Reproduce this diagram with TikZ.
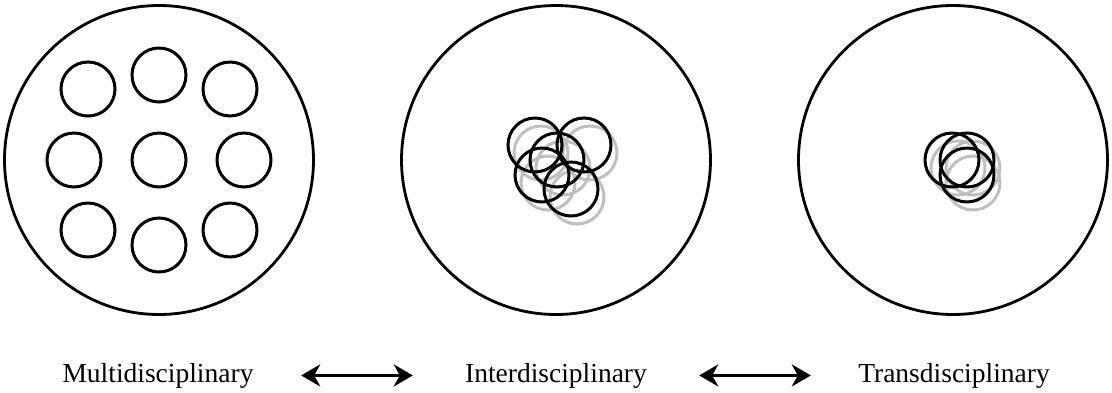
\documentclass[tikz,border=0pt]{standalone}
\usepackage{fontspec}
\setmainfont{Liberation Serif}
\usetikzlibrary{arrows.meta, positioning}

\begin{document}
\begin{tikzpicture}[
  x=1pt, y=-1pt,
  >={Stealth[length=19pt, width=22pt, inset=6pt]},
  panel/.style={circle, draw, line width=2.8pt, minimum size=309pt, inner sep=0pt},
  disc/.style={circle, draw, line width=3pt, minimum size=54pt, inner sep=0pt},
  shade/.style={disc, draw=black!25},
  tag/.style={font=\fontsize{27.5}{32}\selectfont, minimum width=286pt,
              inner sep=0pt, anchor=base},
  arr/.style={<->, line width=2.8pt},
  ]
\useasboundingbox (0,0) rectangle (1112,392);

% three big circles
\node[panel] (multi) at (159,160) {};
\node[panel] (inter) at (556,160) {};
\node[panel] (trans) at (953,160) {};

% multidisciplinary: separate discs
\foreach \x/\y [count=\k] in {88/89, 159/75, 230/89, 74/160, 159/160,
                              244/160, 88/230, 159/245, 230/230}
  \node[disc] (m\k) at (\x,\y) {};

% interdisciplinary: overlapping discs (shadows first)
\foreach \x/\y [count=\k] in {535/145, 584/145, 557/160, 542/175, 571/189}
  \node[shade] (is\k) at (\x+6,\y+8) {};
\foreach \x/\y [count=\k] in {535/145, 584/145, 557/160, 542/175, 571/189}
  \node[disc] (i\k) at (\x,\y) {};

% transdisciplinary: nearly merged discs
\foreach \x/\y [count=\k] in {952/160, 967/160, 967/175}
  \node[shade] (ts\k) at (\x+6,\y+8) {};
\foreach \x/\y [count=\k] in {952/160, 967/160, 967/175}
  \node[disc] (t\k) at (\x,\y) {};

% labels
\node[tag] (multi-txt) at (158,382) {Multidisciplinary};
\node[tag] (inter-txt) at (556,382) {Interdisciplinary};
\node[tag] (trans-txt) at (954,382) {Transdisciplinary};

\draw[arr] (multi-txt) -- (inter-txt);
\draw[arr] (inter-txt) -- (trans-txt);
\end{tikzpicture}
\end{document}
